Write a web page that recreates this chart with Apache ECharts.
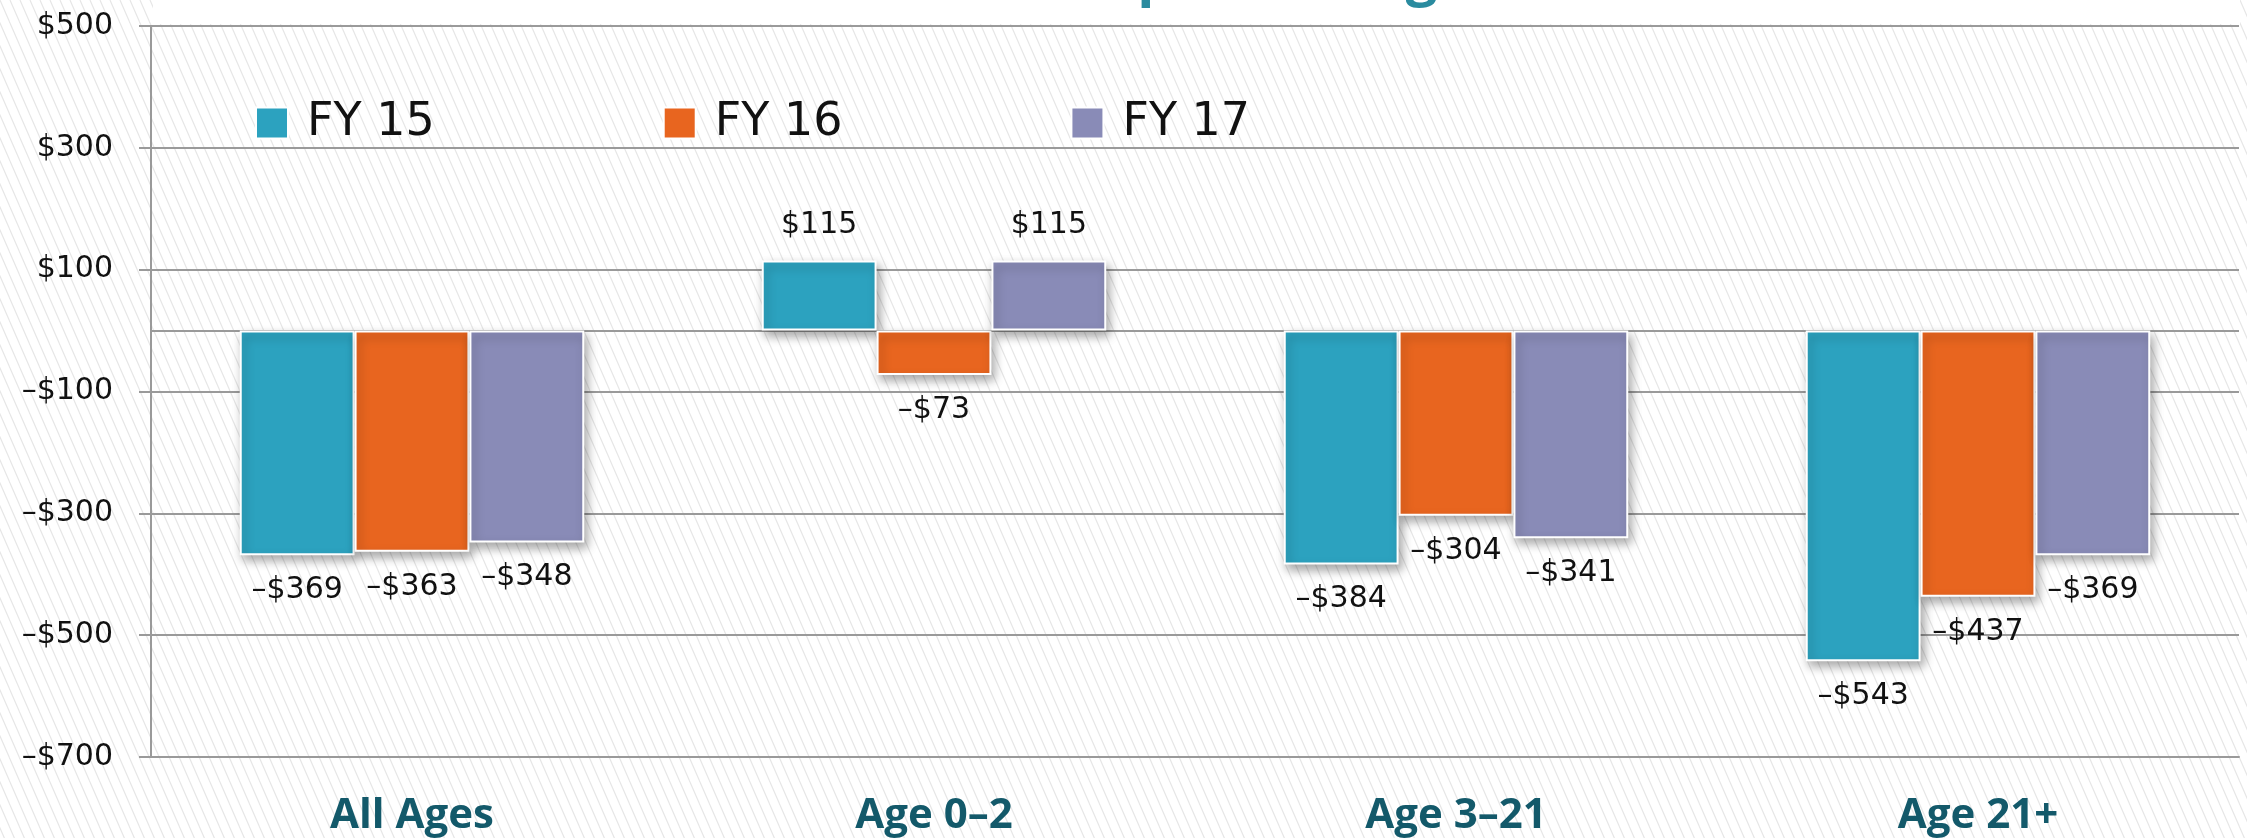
<!DOCTYPE html>
<html>
<head>
<meta charset="utf-8">
<style>
html,body{margin:0;padding:0;background:#fff;}
#chart{width:2247px;height:838px;}
</style>
<script src="https://cdn.jsdelivr.net/npm/echarts@6/dist/echarts.min.js"></script>
</head>
<body>
<div id="chart"></div>
<script>
const categories = ['All Ages', 'Age 0\u20132', 'Age 3\u201321', 'Age 21+'];
const seriesNames = ['FY 15', 'FY 16', 'FY 17'];
const fy15 = [-369, 115, -384, -543];
const fy16 = [-363, -73, -304, -437];
const fy17 = [-348, 115, -341, -369];
const colors = ['#2CA2BF', '#E8651F', '#898BB7'];
const titleText = 'Per Capita Change';

function money(v) {
  return (v < 0 ? '\u2013$' : '$') + Math.abs(v);
}

// hatch pattern
const tile = document.createElement('canvas');
tile.width = 10; tile.height = 23;
const ctx = tile.getContext('2d');
ctx.fillStyle = '#ffffff';
ctx.fillRect(0, 0, 10, 23);
ctx.strokeStyle = '#e6e6e6';
ctx.lineWidth = 1.2;
[-10, 0, 10].forEach(function (o) {
  ctx.beginPath();
  ctx.moveTo(o, 0);
  ctx.lineTo(o + 10, 23);
  ctx.stroke();
});

const chart = echarts.init(document.getElementById('chart'));

function makeSeries(name, values, color, idx) {
  const s = {
    name: name,
    type: 'bar',
    barGap: '0%',
    barCategoryGap: '34%',
    itemStyle: {
      color: color,
      borderColor: '#ffffff',
      borderWidth: 2,
      shadowBlur: 10,
      shadowOffsetX: 3,
      shadowOffsetY: 5,
      shadowColor: 'rgba(0,0,0,0.35)'
    },
    label: {
      show: true,
      fontFamily: 'DejaVu Sans',
      fontSize: 30,
      color: '#111',
      distance: 20,
      formatter: function (p) { return money(p.value); }
    },
    data: values.map(function (v) {
      return { value: v, label: { position: v < 0 ? 'bottom' : 'top' } };
    })
  };
  if (idx === 0) {
    s.markLine = {
      silent: true,
      symbol: 'none',
      label: { show: false },
      lineStyle: { color: '#9a9a9a', width: 2, type: 'solid' },
      data: [{ yAxis: 0 }],
      z: 1
    };
  }
  return s;
}

chart.setOption({
  backgroundColor: { image: tile, repeat: 'repeat' },
  animation: false,
  color: colors,
  graphic: [
    { type: 'rect', shape: { x: 153, y: 0, width: 2087, height: 24 }, style: { fill: '#ffffff' }, z: -1 },
    { type: 'text', x: 1215, y: -21, style: { text: titleText, font: 'bold 56px "Open Sans"', fill: '#2A8B9F', align: 'center', verticalAlign: 'middle' } }
  ],
  legend: {
    data: seriesNames,
    left: 250,
    top: 95,
    icon: 'rect',
    itemWidth: 32,
    itemHeight: 31,
    itemGap: 228,
    textStyle: { fontFamily: 'DejaVu Sans', fontSize: 46, color: '#111', padding: [0, 0, 0, 14] }
  },
  grid: { left: 151, right: 8, top: 26, bottom: 81, containLabel: false },
  xAxis: {
    type: 'category',
    data: categories,
    axisLine: { show: true, onZero: false, lineStyle: { color: '#9a9a9a', width: 2 } },
    axisTick: { show: false },
    axisLabel: { margin: 38, fontFamily: 'Open Sans', fontWeight: 'bold', fontSize: 42, color: '#13596A' }
  },
  yAxis: {
    type: 'value',
    min: -700,
    max: 500,
    interval: 200,
    axisLine: { show: true, lineStyle: { color: '#9a9a9a', width: 2 } },
    axisTick: { show: true, length: 12, lineStyle: { color: '#9a9a9a', width: 2 } },
    splitLine: { show: true, lineStyle: { color: '#9a9a9a', width: 2 } },
    axisLabel: { margin: 38, fontFamily: 'DejaVu Sans', fontSize: 30, color: '#111', formatter: money }
  },
  series: [
    makeSeries(seriesNames[0], fy15, colors[0], 0),
    makeSeries(seriesNames[1], fy16, colors[1], 1),
    makeSeries(seriesNames[2], fy17, colors[2], 2)
  ]
});
</script>
</body>
</html>
